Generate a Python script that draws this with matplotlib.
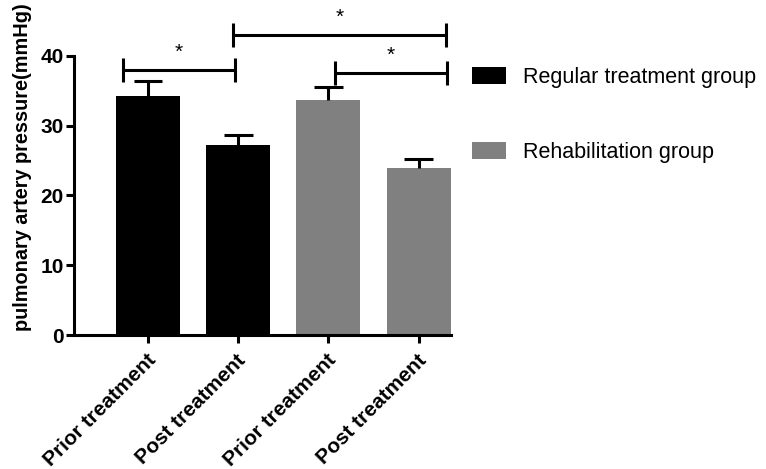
import matplotlib
matplotlib.use("Agg")
import matplotlib.pyplot as plt
import matplotlib.transforms as mtransforms
import numpy as np
from matplotlib.patches import Patch

plt.rcParams['font.family'] = ['Liberation Sans', 'DejaVu Sans']

categories = ["Prior treatment", "Post treatment", "Prior treatment", "Post treatment"]
means = [34.3, 27.3, 33.7, 24.0]
errors = [2.1, 1.4, 1.8, 1.3]
groups = ["Regular treatment group", "Regular treatment group",
          "Rehabilitation group", "Rehabilitation group"]
group_names = ["Regular treatment group", "Rehabilitation group"]
group_colors = {"Regular treatment group": "#000000", "Rehabilitation group": "#808080"}
yticks = [0, 10, 20, 30, 40]

# significance brackets: (x_left, x_right, y, label)
brackets = [(-0.28, 0.97, 38.0, "*"),
            (0.94, 3.31, 43.0, "*"),
            (2.07, 3.32, 37.6, "*")]

fig = plt.figure(figsize=(7.66, 4.69), dpi=100)
ax = fig.add_axes([74/766, 0.2857, 377/766, 0.7139])

x = np.arange(len(categories))
colors = [group_colors[g] for g in groups]
ax.bar(x, means, width=0.71, color=colors, zorder=2)

lw = 2.2
tops = np.array(means) + np.array(errors)
ax.vlines(x, means, tops, color='black', lw=lw, zorder=3)
ax.hlines(tops, x - 0.16, x + 0.16, color='black', lw=lw, zorder=3)

for xl, xr, y, lab in brackets:
    ax.plot([xl, xr], [y, y], color='black', lw=lw, clip_on=False, solid_capstyle='butt')
    ax.plot([xl, xl], [y - 1.7, y + 1.7], color='black', lw=lw, clip_on=False, solid_capstyle='butt')
    ax.plot([xr, xr], [y - 1.7, y + 1.7], color='black', lw=lw, clip_on=False, solid_capstyle='butt')
    ax.text((xl + xr) / 2, y + 1.2, lab, ha='center', va='bottom', fontsize=15, clip_on=False)

ax.set_xlim(-0.82, 3.36)
ax.set_ylim(0, 48)
for s in ['top', 'right']:
    ax.spines[s].set_visible(False)
ax.spines['left'].set_bounds(0, 40)
for s in ['left', 'bottom']:
    ax.spines[s].set_linewidth(lw)
ax.tick_params(axis='both', width=lw, length=5.5, pad=2)
ax.tick_params(axis='x', pad=10)

ax.set_yticks(yticks)
ax.set_yticklabels([str(t) for t in yticks], fontsize=15, fontweight='bold')
ax.set_xticks(x)
ax.set_xticklabels(categories, rotation=45, ha='right', va='center', rotation_mode='anchor',
                   fontsize=15, fontweight='bold')
offset = mtransforms.ScaledTranslation(5/100, -1/100, fig.dpi_scale_trans)
for lbl in ax.get_xticklabels():
    lbl.set_transform(lbl.get_transform() + offset)

ax.set_ylabel("pulmonary artery pressure(mmHg)", fontsize=14.3, fontweight='bold')
ax.yaxis.set_label_coords(-0.112, 0.5)

handles = [Patch(facecolor=group_colors[g], edgecolor='none') for g in group_names]
fig.legend(handles, group_names, loc='upper left', bbox_to_anchor=(472/766, 1 - 67/469),
           frameon=False, fontsize=15.5, handlelength=1.6, handleheight=0.85,
           labelspacing=2.5, handletextpad=0.75, borderpad=0, borderaxespad=0)

fig.savefig("out.png", dpi=100)
